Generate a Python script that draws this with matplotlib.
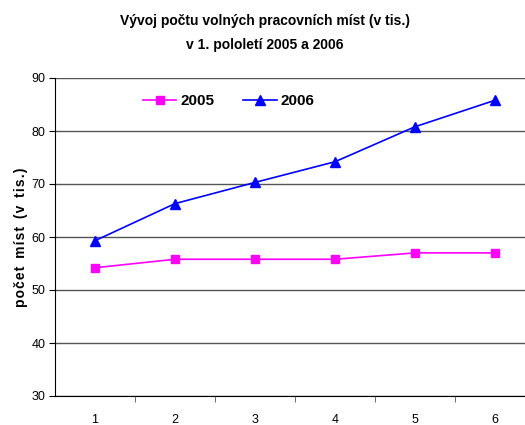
import matplotlib.pyplot as plt
from matplotlib import font_manager

months = [1, 2, 3, 4, 5, 6]
values_2005 = [54.2, 55.8, 55.8, 55.8, 57.0, 57.0]
values_2006 = [59.3, 66.3, 70.3, 74.2, 80.8, 85.8]
y_ticks = [30, 40, 50, 60, 70, 80, 90]

names = {f.name for f in font_manager.fontManager.ttflist}
narrow = 'Liberation Sans Narrow' if 'Liberation Sans Narrow' in names else 'Liberation Sans'
plt.rcParams['font.family'] = [narrow, 'DejaVu Sans']

fig = plt.figure(figsize=(5.25, 4.25), dpi=100)
ax = fig.add_axes([55 / 525, 29 / 425, 480 / 525, 318 / 425])

ax.plot(months, values_2005, color='#ff00ff', marker='s', markersize=6,
        linewidth=1.2, label='2005')
ax.plot(months, values_2006, color='#0000ff', marker='^', markersize=7,
        linewidth=1.2, label='2006')

ax.set_xlim(0.5, 6.5)
ax.set_ylim(30, 90)
ax.set_yticks(y_ticks)
ax.set_xticks(months)
ax.set_xticks([1.5, 2.5, 3.5, 4.5, 5.5], minor=True)
ax.tick_params(axis='x', which='major', length=0, pad=13, labelsize=9)
ax.tick_params(axis='x', which='minor', length=4, direction='out', color='#555555')
ax.tick_params(axis='y', length=4, direction='out', labelsize=9, pad=3)

ax.grid(axis='y', color='#555555', linewidth=1)
ax.set_axisbelow(True)
for s in ['top', 'right']:
    ax.spines[s].set_visible(False)
ax.spines['left'].set_color('black')
ax.spines['bottom'].set_color('black')

ax.set_ylabel('p o č e t  m í s t  ( v  t i s . )'.replace(' ', '\u200a').replace('\u200a\u200a', '  '),
              fontsize=10, fontweight='bold', labelpad=2)

leg = ax.legend(loc='center left', bbox_to_anchor=(0.183, 0.928), ncol=2,
                frameon=False, prop={'size': 11, 'weight': 'bold'},
                borderpad=0, borderaxespad=0,
                handlelength=2.2, columnspacing=1.9, handletextpad=0.25)

fig.text(265 / 525, 1 - 21 / 425, 'Vývoj počtu volných pracovních míst (v tis.)',
         ha='center', va='center', fontsize=10, fontweight='bold')
fig.text(265 / 525, 1 - 45 / 425, 'v 1. pololetí 2005 a 2006',
         ha='center', va='center', fontsize=10, fontweight='bold')

fig.savefig('out.png', dpi=100)
